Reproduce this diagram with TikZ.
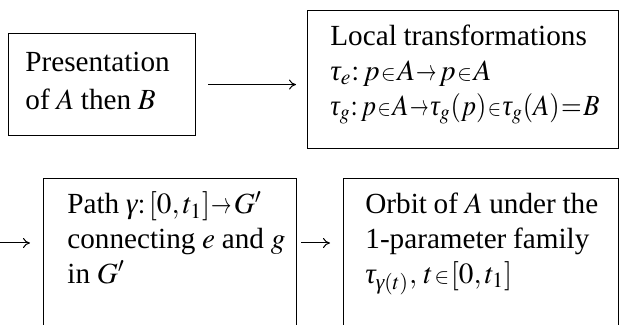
\documentclass[tikz,border=0pt]{standalone}
\usepackage{mathptmx}
\usepackage{amsmath}
\usepackage{fontspec}
\setmainfont{Liberation Serif}
\usetikzlibrary{arrows.meta,positioning}
\newcommand{\tightset}{\spaceskip=0.23em plus 0.05em\relax
  \thickmuskip=1mu\medmuskip=1mu\relax}
\newcommand{\tin}{\mathrel{\scalebox{0.75}{$\in$}}}
\newcommand{\tto}{\mathrel{\scalebox{0.7}[1]{$\rightarrow$}}}
\newcommand{\gtau}{\text{\itshape τ}}
\newcommand{\ggam}{\text{\itshape γ}}

\begin{document}
\begin{tikzpicture}[
    x=0.5pt, y=-0.5pt,
    box/.style={rectangle,draw,line width=0.6pt,anchor=north west,inner sep=0pt},
    txt/.style={anchor=base west,inner sep=0pt,align=left,text width=200pt,
      font=\fontsize{14.6}{17.3}\selectfont,execute at begin node=\tightset},
    arrow/.style={-{To[length=3.5pt,width=5pt]},line width=0.5pt}
  ]
  \useasboundingbox (0,0) rectangle (621,325);
  \clip (0,0) rectangle (621,325);

  \node[box,minimum width=93.5pt,minimum height=51pt] (pres) at (8,33) {};
  \node[box,minimum width=155.5pt,minimum height=69pt] (local) at (307,10) {};
  \node[box,minimum width=126.5pt,minimum height=100pt] (path) at (43,178) {};
  \node[box,minimum width=137.5pt,minimum height=100pt] (orbit) at (343,178) {};

  \node[txt,text width=85pt,font=\fontsize{14.6}{19}\selectfont] (presText)
    at ([shift={(17,39)}]pres.north west) {Presentation\\of $A$ then $B$};
  \node[txt] (localText) at ([shift={(23,36)}]local.north west)
    {Local transformations\\
     $\gtau_e{:}\,p\tin A\tto p\tin A$\\
     \scalebox{0.91}[1]{$\gtau_g{:}\,p\tin A\tto\gtau_g(p)\tin\gtau_g(A)=B$}};
  \node[txt,text width=120pt] (pathText) at ([shift={(24,36)}]path.north west)
    {Path $\ggam{:}\,[0,t_1]\tto G'$\\connecting $e$ and $g$\\in $G'$};
  \node[txt,text width=125pt] (orbitText) at ([shift={(22,36)}]orbit.north west)
    {Orbit of $A$ under the\\1-parameter family\\$\gtau_{\ggam(t)},\,t\tin[0,t_1]$};

  \coordinate (entry) at (0,243);
  \draw[arrow,shorten <=6pt,shorten >=5.5pt] (pres.east) -- (pres.east -| local.west);
  \draw[arrow,shorten >=6.5pt] (entry) -- (entry -| path.west);
  \draw[arrow,shorten <=2pt,shorten >=6.5pt] (entry -| path.east) -- (entry -| orbit.west);
\end{tikzpicture}
\end{document}
